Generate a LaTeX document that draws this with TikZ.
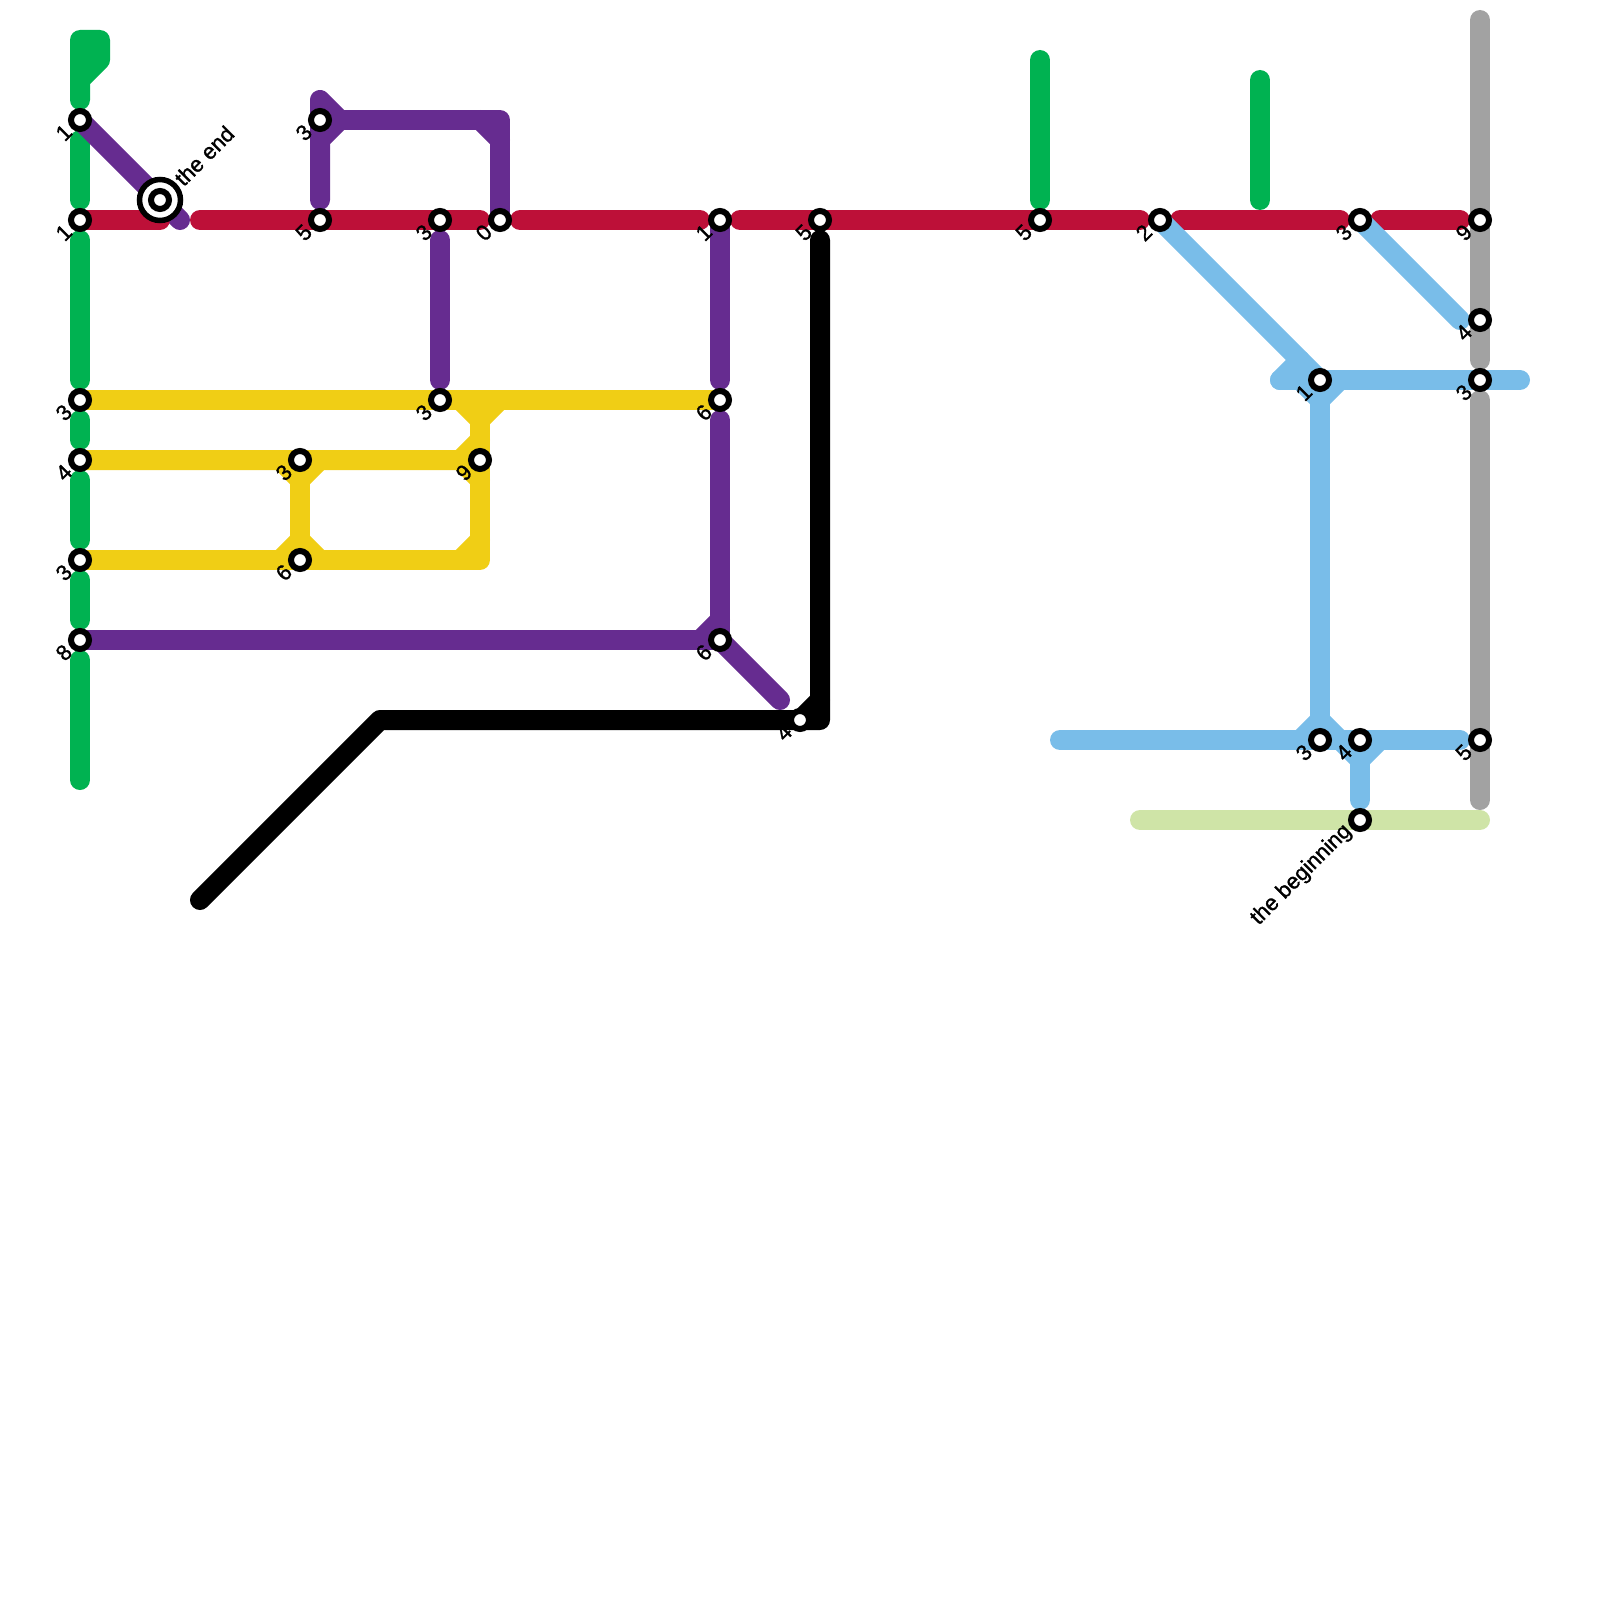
\documentclass[tikz,border=0pt]{standalone}
\usepackage{fontspec}
\setmainfont{Liberation Sans}
\newfontfamily\lblfont{Liberation Sans}[FakeBold=1.2]
\definecolor{cgreen}{HTML}{00B251}
\definecolor{cred}{HTML}{BD1038}
\definecolor{cpurple}{HTML}{662C90}
\definecolor{cyellow}{HTML}{F0CE15}
\definecolor{cblue}{HTML}{79BDE9}
\definecolor{cgrey}{HTML}{A2A2A2}
\definecolor{clime}{HTML}{CFE4A7}
\pgfdeclarelayer{fg}
\pgfsetlayers{main,fg}
\tikzset{
  metro/.style={line width=10pt,line cap=round,line join=round},
  greenline/.style={metro,draw=cgreen},
  redline/.style={metro,draw=cred},
  purpleline/.style={metro,draw=cpurple},
  yellowline/.style={metro,draw=cyellow},
  blueline/.style={metro,draw=cblue},
  greyline/.style={metro,draw=cgrey},
  limeline/.style={metro,draw=clime},
  blackline/.style={metro,draw=black},
  stop/.style={circle,draw=black,fill=white,line width=3pt,minimum size=9pt,inner sep=0pt,outer sep=0pt},
  bigstop/.style={circle,draw=black,fill=white,line width=2.75pt,minimum size=20.5pt,inner sep=0pt,outer sep=0pt},
  stoplabel/.style={font=\lblfont\fontsize{11}{13}\selectfont,rotate=45,inner sep=0pt,text=black},
  lab/.style={shift={(-5.8pt,-4.0pt)},stoplabel,anchor=east},
}
\newcommand{\stn}[4]{\node[stop] (#1) at (#2,#3) {};\node[lab] (#1t) at (#2,#3) {#4};}
\begin{document}
\begin{tikzpicture}[x=0.5pt,y=-0.5pt]
\useasboundingbox (0,0) rectangle (1600,1600);
\begin{pgfonlayer}{fg}
\stn{a1}{80}{120}{1}
\stn{a2}{80}{220}{1}
\stn{a3}{80}{400}{3}
\stn{a4}{80}{460}{4}
\stn{a5}{80}{560}{3}
\stn{a6}{80}{640}{8}
\stn{b1}{320}{120}{3}
\stn{b2}{320}{220}{5}
\stn{c1}{440}{220}{3}
\stn{c2}{500}{220}{0}
\stn{c3}{440}{400}{3}
\stn{d1}{300}{460}{3}
\stn{d2}{300}{560}{6}
\stn{d3}{480}{460}{9}
\stn{e1}{720}{220}{1}
\stn{e2}{720}{400}{6}
\stn{e3}{720}{640}{6}
\stn{f1}{820}{220}{5}
\stn{f2}{800}{720}{4}
\stn{g1}{1040}{220}{5}
\stn{h1}{1160}{220}{2}
\stn{i1}{1320}{380}{1}
\stn{i2}{1320}{740}{3}
\stn{j1}{1360}{220}{3}
\stn{j2}{1360}{740}{4}
\stn{j3}{1360}{820}{the beginning}
\stn{k1}{1480}{220}{9}
\stn{k2}{1480}{320}{4}
\stn{k3}{1480}{380}{3}
\stn{k4}{1480}{740}{5}
\node[bigstop] (end) at (160,200) {};
\node[stop] (endc) at (160,200) {};
\node[shift={(9pt,9pt)},stoplabel,anchor=west] (endt) at (160,200) {the end};
\end{pgfonlayer}
\foreach \x/\y in {80/100,80/40,100/40,100/60,80/80,80/140,80/200,80/240,80/380,80/420,80/440,80/480,80/540,80/580,80/620,80/660,80/780,
1040/60,1040/200,1260/80,1260/200,
160/220,180/220,200/220,480/220,520/220,700/220,740/220,1140/220,1180/220,1340/220,1380/220,1460/220,
320/200,320/100,340/120,320/140,480/120,500/120,500/140,440/240,440/380,720/380,720/420,700/640,720/620,780/700,
460/400,480/420,500/400,460/460,480/440,480/480,480/560,460/560,480/540,300/480,320/460,280/460,300/540,280/560,320/560,
200/900,380/720,820/720,820/240,820/700,800/720,
1300/360,1280/380,1520/380,1340/380,1320/400,1300/380,1060/740,1460/740,1300/740,1320/720,1340/740,1360/760,1380/740,1360/800,1460/320,
1480/20,1480/360,1480/400,1480/800,1140/820,1480/820}
  {\coordinate (p\x x\y) at (\x,\y);}
% grey and lime
\draw[greyline] (p1480x20) -- (p1480x360);
\draw[greyline] (p1480x400) -- (p1480x800);
\draw[limeline] (p1140x820) -- (p1480x820);
% green
\draw[greenline] (p80x100) -- (p80x40) -- (p100x40) -- (p100x60) -- (p80x80);
\draw[greenline] (p80x140) -- (p80x200);
\draw[greenline] (p80x240) -- (p80x380);
\draw[greenline] (p80x420) -- (p80x440);
\draw[greenline] (p80x480) -- (p80x540);
\draw[greenline] (p80x580) -- (p80x620);
\draw[greenline] (p80x660) -- (p80x780);
\draw[greenline] (p1040x60) -- (p1040x200);
\draw[greenline] (p1260x80) -- (p1260x200);
% purple
\draw[purpleline] (a1.center) -- (p180x220);
\draw[purpleline] (p320x200) -- (p320x100) -- (p340x120) -- (p320x140);
\draw[purpleline] (b1.center) -- (p500x120) -- (c2.center);
\draw[purpleline] (p480x120) -- (p500x140);
\draw[purpleline] (p440x240) -- (p440x380);
\draw[purpleline] (e1.center) -- (p720x380);
\draw[purpleline] (p720x420) -- (e3.center) -- (a6.center);
\draw[purpleline] (p700x640) -- (p720x620);
\draw[purpleline] (e3.center) -- (p780x700);
% red
\draw[redline] (a2.center) -- (p160x220);
\draw[redline] (p200x220) -- (p480x220);
\draw[redline] (p520x220) -- (p700x220);
\draw[redline] (p740x220) -- (p1140x220);
\draw[redline] (p1180x220) -- (p1340x220);
\draw[redline] (p1380x220) -- (p1460x220);
% yellow
\draw[yellowline] (a3.center) -- (e2.center);
\draw[yellowline] (p460x400) -- (p480x420) -- (p500x400);
\draw[yellowline] (a4.center) -- (p460x460) -- (p480x440);
\draw[yellowline] (p460x460) -- (p480x480);
\draw[yellowline] (p480x420) -- (p480x560) -- (a5.center);
\draw[yellowline] (p460x560) -- (p480x540);
\draw[yellowline] (d1.center) -- (d2.center);
\draw[yellowline] (p280x460) -- (p300x480) -- (p320x460);
\draw[yellowline] (p280x560) -- (p300x540) -- (p320x560);
% black
\draw[blackline] (p200x900) -- (p380x720) -- (p820x720) -- (p820x240);
\draw[blackline] (f2.center) -- (p820x700);
% blue
\draw[blueline] (h1.center) -- (i1.center);
\draw[blueline] (p1280x380) -- (p1520x380);
\draw[blueline] (p1280x380) -- (p1300x360);
\draw[blueline] (i1.center) -- (i2.center);
\draw[blueline] (p1300x380) -- (p1320x400) -- (p1340x380);
\draw[blueline] (p1060x740) -- (p1460x740);
\draw[blueline] (p1300x740) -- (p1320x720) -- (p1340x740) -- (p1360x760) -- (p1380x740);
\draw[blueline] (j2.center) -- (p1360x800);
\draw[blueline] (j1.center) -- (p1460x320);
\end{tikzpicture}
\end{document}
